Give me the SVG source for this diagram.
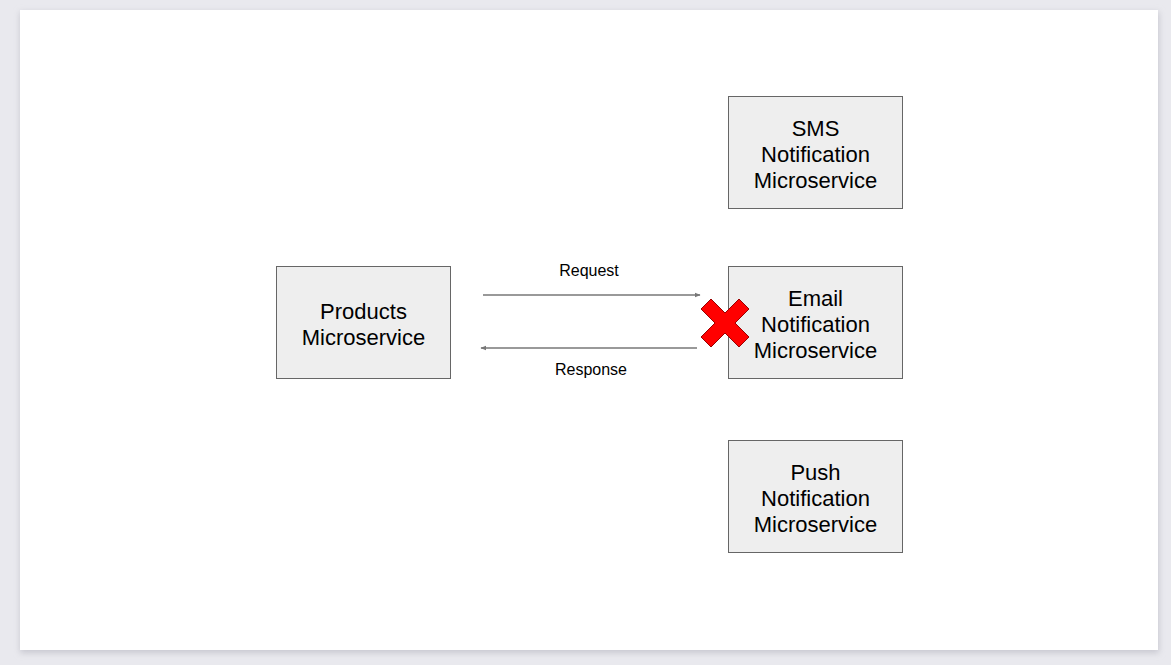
<svg xmlns="http://www.w3.org/2000/svg" width="1171" height="665" viewBox="0 0 1171 665">
<defs>
<style>
.box{fill:#eeeeee;stroke:#666666;stroke-width:1}
.t{font-family:"Liberation Sans",Arial,sans-serif;font-size:22px;fill:#000;text-anchor:middle}
.l{font-family:"Liberation Sans",Arial,sans-serif;font-size:16px;fill:#000;text-anchor:middle}
.c{stroke:#777777;stroke-width:1.3;fill:none}
</style>
<marker id="ah" viewBox="0 0 10 10" refX="9" refY="5" markerWidth="6" markerHeight="6" orient="auto-start-reverse" markerUnits="userSpaceOnUse">
<path d="M0,1 L10,5 L0,9 z" fill="#777777"/>
</marker>
<filter id="sh" x="-5%" y="-5%" width="110%" height="110%">
<feGaussianBlur stdDeviation="3"/>
</filter>
</defs>
<rect x="0" y="0" width="1171" height="665" fill="#e9e9ee"/>
<rect x="20" y="12" width="1139" height="641" fill="#c8c8d0" filter="url(#sh)"/>
<rect x="20" y="10" width="1138" height="640" fill="#ffffff"/>
<g id="connectors">
<line class="c" x1="483" y1="295" x2="700" y2="295" marker-end="url(#ah)"/>
<text class="l" x="589" y="276">Request</text>
<line class="c" x1="697" y1="348" x2="481" y2="348" marker-end="url(#ah)"/>
<text class="l" x="591" y="375">Response</text>
</g>
<g id="products">
<rect class="box" x="276.5" y="266.5" width="174" height="112"/>
<text class="t" x="363.5" y="319">Products</text>
<text class="t" x="363.5" y="345">Microservice</text>
</g>
<g id="sms">
<rect class="box" x="728.5" y="96.5" width="174" height="112"/>
<text class="t" x="815.5" y="136">SMS</text>
<text class="t" x="815.5" y="162">Notification</text>
<text class="t" x="815.5" y="188">Microservice</text>
</g>
<g id="email">
<rect class="box" x="728.5" y="266.5" width="174" height="112"/>
<text class="t" x="815.5" y="306">Email</text>
<text class="t" x="815.5" y="332">Notification</text>
<text class="t" x="815.5" y="358">Microservice</text>
</g>
<g id="push">
<rect class="box" x="728.5" y="440.5" width="174" height="112"/>
<text class="t" x="815.5" y="480">Push</text>
<text class="t" x="815.5" y="506">Notification</text>
<text class="t" x="815.5" y="532">Microservice</text>
</g>
<g id="fail-x">
<polygon points="711,299 725,313 739,299 749,309 735,323 749,337 739,347 725,333 711,347 701,337 715,323 701,309" fill="#ff0000" stroke="#990000" stroke-width="1" stroke-linejoin="round"/>
</g>
</svg>
